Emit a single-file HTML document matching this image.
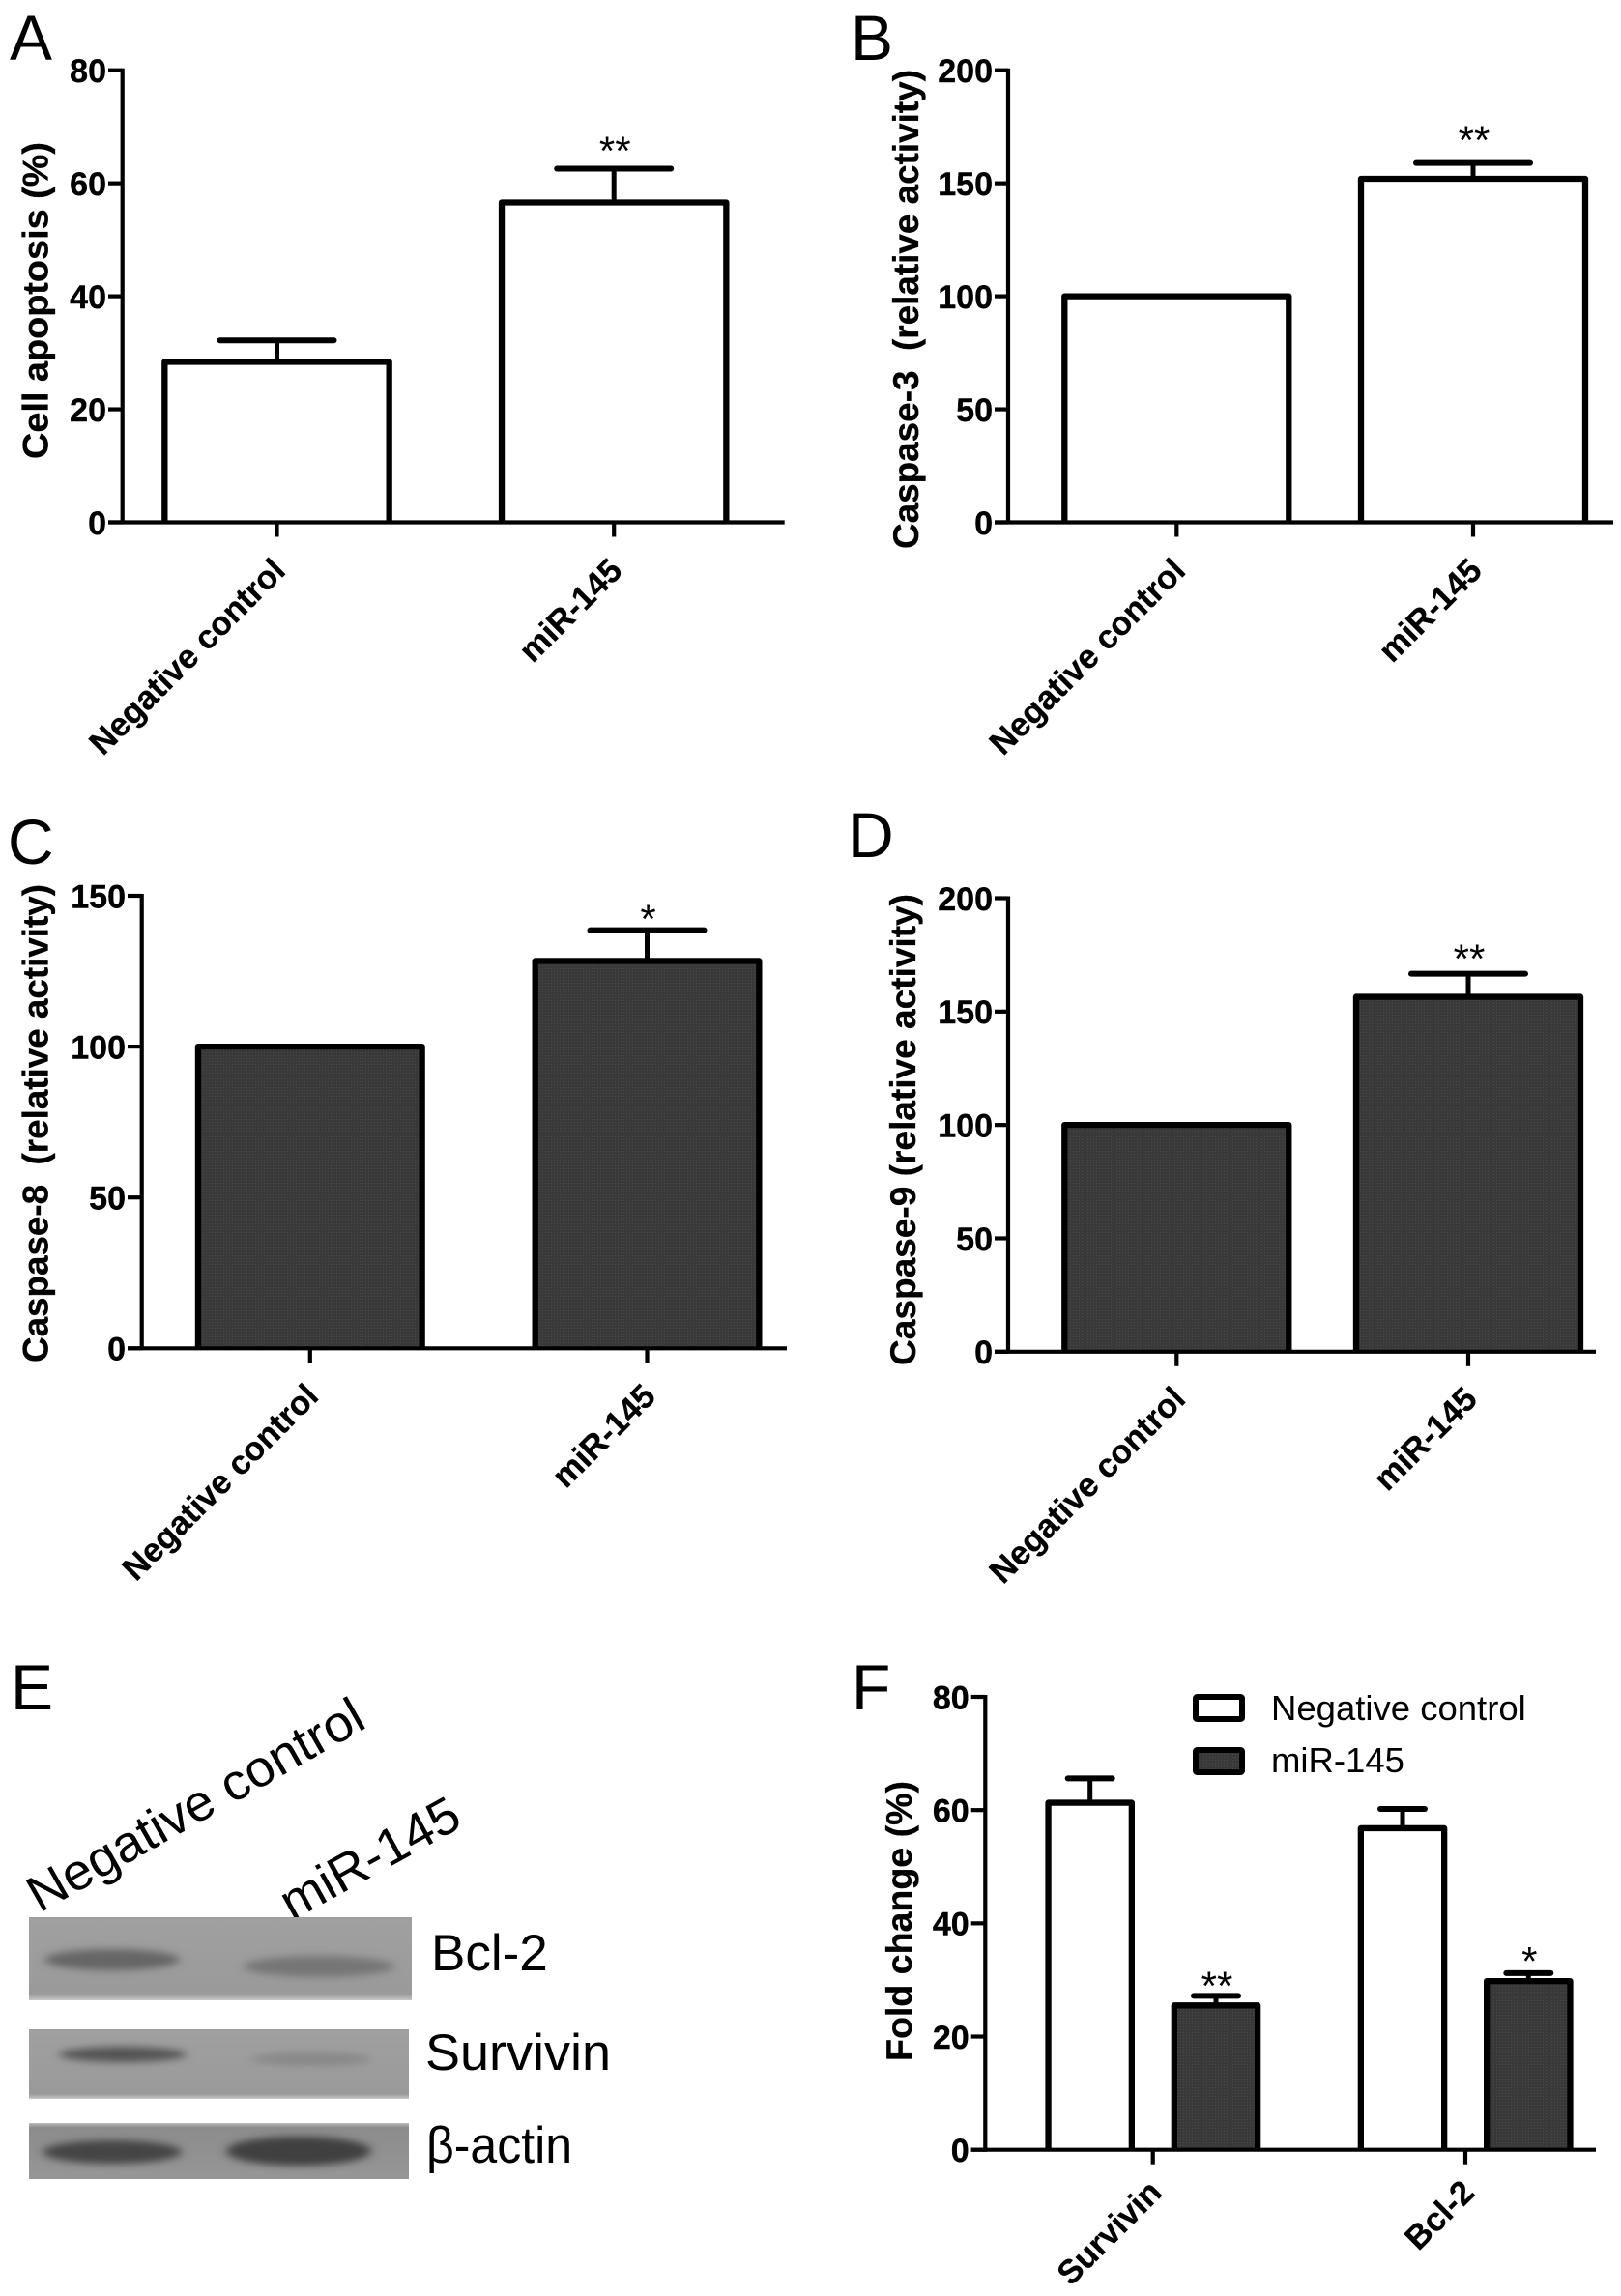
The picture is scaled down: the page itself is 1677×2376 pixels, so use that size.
<!DOCTYPE html>
<html lang="en">
<head>
<meta charset="utf-8">
<title>miR-145 apoptosis figure</title>
<style>
html,body{margin:0;padding:0;background:#fff;}
svg{display:block;}
text{font-family:"Liberation Sans",sans-serif;fill:#000;}
</style>
</head>
<body>
<svg id="figure" xmlns="http://www.w3.org/2000/svg" width="1677" height="2376" viewBox="0 0 1677 2376">
  <defs>
    <filter id="blur-band" x="-30%" y="-120%" width="160%" height="340%"><feGaussianBlur stdDeviation="5 4"/></filter>
    <linearGradient id="blot-bottom" x1="0" y1="0" x2="0" y2="1">
      <stop offset="0" stop-color="#a0a0a0"/><stop offset="0.93" stop-color="#9a9a9a"/><stop offset="1" stop-color="#c8c8c8"/>
    </linearGradient>
    <linearGradient id="blot-actin" x1="0" y1="0" x2="0" y2="1">
      <stop offset="0" stop-color="#bcbcbc"/><stop offset="0.08" stop-color="#8c8c8c"/><stop offset="1" stop-color="#969696"/>
    </linearGradient>
    <pattern id="dark-texture" width="3" height="3" patternUnits="userSpaceOnUse">
      <rect width="3" height="3" fill="#393939"/>
      <rect width="1" height="1" fill="#4a4a4a"/>
    </pattern>
  </defs>
  <rect x="0" y="0" width="1677" height="2376" fill="#fff"/>

  <text x="10" y="62" font-size="66">A</text>
  <text x="880" y="62" font-size="66">B</text>
  <text x="8" y="894" font-size="66">C</text>
  <text x="877" y="887" font-size="66">D</text>
  <text x="11" y="1769" font-size="66">E</text>
  <text x="881" y="1769" font-size="66">F</text>

  <g id="panel-a"></g>
  <g id="panel-b"></g>
  <g id="panel-c"></g>
  <g id="panel-d"></g>
  <g id="panel-f"></g>

  <g>
    <text x="41" y="1980" font-size="53" textLength="391" lengthAdjust="spacingAndGlyphs" transform="rotate(-29.6 41 1980)">Negative control</text>
    <text x="302" y="1988" font-size="53" textLength="204" lengthAdjust="spacingAndGlyphs" transform="rotate(-29 302 1988)">miR-145</text>

    <g>
      <rect x="30" y="1984" width="396" height="86" fill="url(#blot-bottom)"/>
      <ellipse cx="116" cy="2028" rx="70" ry="11" fill="#666666" filter="url(#blur-band)"/>
      <ellipse cx="330" cy="2035" rx="78" ry="11" fill="#767676" filter="url(#blur-band)"/>
    </g>
    <g>
      <rect x="30" y="2100" width="393" height="72" fill="url(#blot-bottom)"/>
      <ellipse cx="127" cy="2126" rx="66" ry="8" fill="#555555" filter="url(#blur-band)"/>
      <ellipse cx="322" cy="2131" rx="62" ry="7" fill="#888888" filter="url(#blur-band)"/>
    </g>
    <g>
      <rect x="30" y="2197" width="393" height="58" fill="url(#blot-actin)"/>
      <ellipse cx="116" cy="2227" rx="72" ry="12" fill="#454545" filter="url(#blur-band)"/>
      <ellipse cx="309" cy="2226" rx="75" ry="15" fill="#3f3f3f" filter="url(#blur-band)"/>
    </g>
    <text x="446" y="2039" font-size="53">Bcl-2</text>
    <text x="440" y="2142" font-size="53" textLength="192" lengthAdjust="spacingAndGlyphs">Survivin</text>
    <text x="441" y="2238" font-size="53" textLength="151" lengthAdjust="spacingAndGlyphs">β-actin</text>
  </g>
  <rect x="0" y="2368" width="1677" height="8" fill="#fff"/>
</svg>

<script>
// ---- chart data ----
const categories = ['Negative control', 'miR-145'];
const panelATicks = [0, 20, 40, 60, 80];
const panelAValues = [28.4, 56.6];
const panelAErrors = [3.8, 6.0];
const panelAStars = ['', '**'];
const panelBTicks = [0, 50, 100, 150, 200];
const panelBValues = [100, 152];
const panelBErrors = [0, 7];
const panelBStars = ['', '**'];
const panelCTicks = [0, 50, 100, 150];
const panelCValues = [100, 128.4];
const panelCErrors = [0, 10.2];
const panelCStars = ['', '*'];
const panelDTicks = [0, 50, 100, 150, 200];
const panelDValues = [100, 156.5];
const panelDErrors = [0, 10.2];
const panelDStars = ['', '**'];
const panelFCategories = ['Survivin', 'Bcl-2'];
const panelFTicks = [0, 20, 40, 60, 80];
const panelFControlValues = [61.3, 56.8];
const panelFControlErrors = [4.3, 3.4];
const panelFMirValues = [25.5, 29.8];
const panelFMirErrors = [1.7, 1.4];
const panelFControlStars = ['', ''];
const panelFMirStars = ['**', '*'];
const legendLabels = ['Negative control', 'miR-145'];

const NS = 'http://www.w3.org/2000/svg';
const INK = '#000';
const DARK = 'url(#dark-texture)';
const AXIS_W = 4.2;

function make(parent, tag, attrs) {
  const node = document.createElementNS(NS, tag);
  for (const key in attrs) node.setAttribute(key, attrs[key]);
  parent.appendChild(node);
  return node;
}

function drawAxes(g, cfg, ticks, cats, scaleY) {
  const yAxis = make(g, 'line', {x1: cfg.axisX, x2: cfg.axisX, y1: cfg.yTop - 2, y2: cfg.y0 + 2, stroke: INK, 'stroke-width': AXIS_W});
  
  
  const xAxis = make(g, 'line', {x1: cfg.axisStart, x2: cfg.axisEnd, y1: cfg.y0, y2: cfg.y0, stroke: INK, 'stroke-width': AXIS_W});
  
  

  ticks.forEach(function (t) {
    const y = scaleY(t);
    const tick = make(g, 'line', {x1: cfg.axisStart, x2: cfg.axisX, y1: y, y2: y, stroke: INK, 'stroke-width': AXIS_W});
    
    
    const label = make(g, 'text', {x: cfg.axisStart - 2, y: y + 12.3, 'text-anchor': 'end', 'font-size': 34, 'font-weight': 'bold', stroke: INK, 'stroke-width': 0.4});
    
    
    label.textContent = t;
  });

  cats.forEach(function (c, i) {
    const x = cfg.centers[i];
    const tick = make(g, 'line', {x1: x, x2: x, y1: cfg.y0, y2: cfg.y0 + 15, stroke: INK, 'stroke-width': AXIS_W});
    
    
    const lx = x + cfg.catNudge, ly = cfg.y0 + cfg.catDrop;
    const label = make(g, 'text', {x: lx, y: ly, 'text-anchor': 'end', 'font-size': 34.4, 'font-weight': 'bold', stroke: INK, 'stroke-width': 0.3, transform: 'rotate(-45 ' + lx + ' ' + ly + ')'});
    
    
    label.textContent = c;
  });

  const title = make(g, 'text', {x: cfg.titleX, y: cfg.titleBottom, 'font-size': 37, 'font-weight': 'bold', stroke: INK, 'stroke-width': 0.3, textLength: cfg.titleLen, lengthAdjust: 'spacingAndGlyphs', transform: 'rotate(-90 ' + cfg.titleX + ' ' + cfg.titleBottom + ')'});
  
  
  title.style.whiteSpace = 'pre';
  title.textContent = cfg.title;
}

function drawBar(g, cfg, cx, value, error, star, fill, scaleY, starGap) {
  const top = scaleY(value);
  const halfW = cfg.barW / 2;
  if (error > 0) {
    const errTop = scaleY(value + error);
    const whisker = make(g, 'line', {x1: cx, x2: cx, y1: top, y2: errTop, stroke: INK, 'stroke-width': 5});
    
    
    const cap = make(g, 'line', {x1: cx - cfg.capHalf, x2: cx + cfg.capHalf, y1: errTop, y2: errTop, stroke: INK, 'stroke-width': 6, 'stroke-linecap': 'round'});
    
    
    if (star) {
      const mark = make(g, 'text', {x: cx + 1, y: errTop - starGap + 19, 'text-anchor': 'middle', 'font-size': 42});
      
      
      mark.textContent = star;
    }
  }
  const d = 'M' + (cx - halfW) + ' ' + cfg.y0 + ' V' + top + ' H' + (cx + halfW) + ' V' + cfg.y0;
  const bar = make(g, 'path', {d: d, fill: fill, stroke: INK, 'stroke-width': cfg.barStroke, 'stroke-linejoin': 'round'});
  
  
}

function yScale(cfg, ticks) {
  const max = ticks[ticks.length - 1];
  return function (v) { return cfg.y0 - v / max * (cfg.y0 - cfg.yTop); };
}

function drawSimplePanel(id, cfg, ticks, values, errors, stars, fill) {
  const g = document.getElementById(id);
  const scaleY = yScale(cfg, ticks);
  values.forEach(function (v, i) {
    drawBar(g, cfg, cfg.centers[i], v, errors[i], stars[i], fill, scaleY, cfg.starGap);
  });
  drawAxes(g, cfg, ticks, categories, scaleY);
}

drawSimplePanel('panel-a', {
  axisX: 126.7, axisStart: 112, axisEnd: 811.7, yTop: 72.7, y0: 540.5,
  centers: [286.5, 635.2], barW: 232.3, barStroke: 6.3, capHalf: 59, starGap: 23, catDrop: 52, catNudge: 10.5,
  title: 'Cell apoptosis (%)', titleX: 49.5, titleBottom: 475, titleLen: 328
}, panelATicks, panelAValues, panelAErrors, panelAStars, '#fff');

drawSimplePanel('panel-b', {
  axisX: 1043, axisStart: 1029, axisEnd: 1669, yTop: 72.7, y0: 540.5,
  centers: [1217.3, 1524], barW: 232, barStroke: 6.3, capHalf: 59, starGap: 28, catDrop: 52, catNudge: 11,
  title: 'Caspase-3  (relative activity)', titleX: 950, titleBottom: 568, titleLen: 496
}, panelBTicks, panelBValues, panelBErrors, panelBStars, '#fff');

drawSimplePanel('panel-c', {
  axisX: 146.7, axisStart: 132, axisEnd: 814, yTop: 927, y0: 1395.3,
  centers: [320.8, 669.5], barW: 231.7, barStroke: 6.3, capHalf: 59, starGap: 16, catDrop: 51.5, catNudge: 10.5,
  title: 'Caspase-8  (relative activity)', titleX: 49.5, titleBottom: 1410, titleLen: 495
}, panelCTicks, panelCValues, panelCErrors, panelCStars, DARK);

drawSimplePanel('panel-d', {
  axisX: 1043, axisStart: 1029, axisEnd: 1651, yTop: 929.5, y0: 1398.8,
  centers: [1217.3, 1519], barW: 232, barStroke: 6.3, capHalf: 59, starGap: 20, catDrop: 51, catNudge: 11,
  title: 'Caspase-9 (relative activity)', titleX: 947, titleBottom: 1413, titleLen: 488
}, panelDTicks, panelDValues, panelDErrors, panelDStars, DARK);

(function drawPanelF() {
  const cfg = {
    axisX: 1019.3, axisStart: 1004.7, axisEnd: 1651, yTop: 1756, y0: 2224.7,
    centers: [1192.7, 1516], barW: 86.3, barStroke: 6.3, capHalf: 23, catDrop: 46, catNudge: 11,
    title: 'Fold change (%)', titleX: 943, titleBottom: 2133, titleLen: 290
  };
  const g = document.getElementById('panel-f');
  const scaleY = yScale(cfg, panelFTicks);
  panelFCategories.forEach(function (c, i) {
    drawBar(g, cfg, cfg.centers[i] - 65, panelFControlValues[i], panelFControlErrors[i], panelFControlStars[i], '#fff', scaleY, 16);
    drawBar(g, cfg, cfg.centers[i] + 65.3, panelFMirValues[i], panelFMirErrors[i], panelFMirStars[i], DARK, scaleY, i === 0 ? 15 : 17);
  });
  drawAxes(g, cfg, panelFTicks, panelFCategories, scaleY);

  const swatchFills = ['#fff', DARK];
  legendLabels.forEach(function (name, i) {
    const y = 1756 + i * 55;
    const swatch = make(g, 'rect', {x: 1237, y: y, width: 48, height: 23, rx: 1.5, fill: swatchFills[i], stroke: INK, 'stroke-width': 6});
    
    
    const label = make(g, 'text', {x: 1315, y: 1780 + i * 54, 'font-size': 36.5});
    
    
    label.textContent = name;
  });
})();
</script>
</body>
</html>
